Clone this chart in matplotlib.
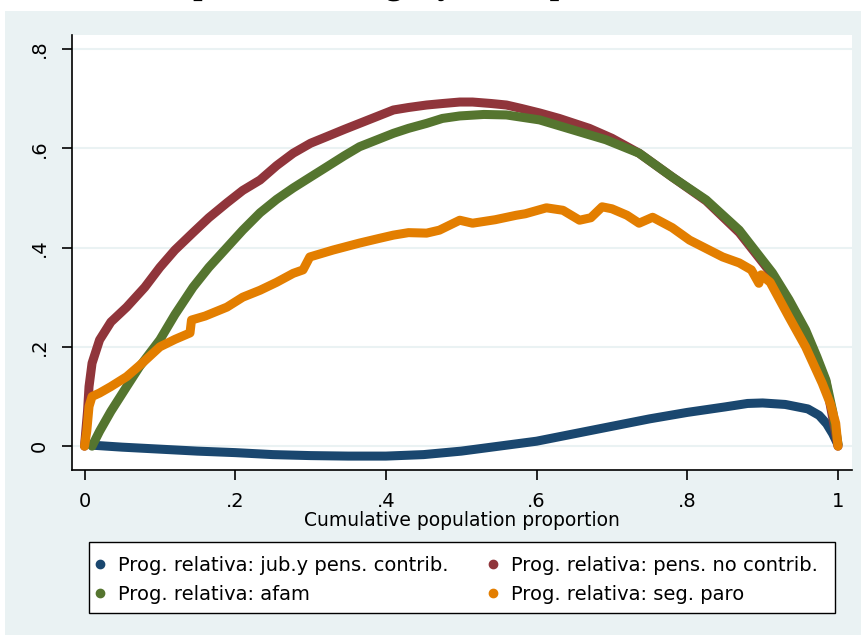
import matplotlib
matplotlib.use("Agg")
import matplotlib.pyplot as plt
import matplotlib.patheffects as pe
from matplotlib.lines import Line2D
from matplotlib.patches import Rectangle

# cumulative population proportion and relative progressivity per programme
x_contrib = [0.01, 0.03, 0.05, 0.1, 0.15, 0.2, 0.25, 0.3, 0.35, 0.4, 0.45, 0.5, 0.55,
             0.6, 0.65, 0.7, 0.75, 0.8, 0.85, 0.88, 0.9, 0.93, 0.96, 0.975, 0.985,
             0.993, 1.0]
y_contrib = [0.002, 0.0, -0.002, -0.006, -0.01, -0.013, -0.017, -0.019, -0.02, -0.02,
             -0.017, -0.01, 0.0, 0.01, 0.025, 0.04, 0.055, 0.068, 0.079, 0.086, 0.087,
             0.084, 0.075, 0.062, 0.045, 0.025, 0.003]

x_nocontrib = [0.0, 0.004, 0.006, 0.01, 0.02, 0.035, 0.056, 0.08, 0.1, 0.12, 0.144,
               0.165, 0.189, 0.21, 0.233, 0.255, 0.277, 0.3, 0.321, 0.345, 0.365, 0.39,
               0.41, 0.43, 0.454, 0.475, 0.498, 0.515, 0.54, 0.56, 0.58, 0.604, 0.63,
               0.67, 0.7, 0.736, 0.78, 0.825, 0.869, 0.913, 0.957, 0.984, 1.0]
y_nocontrib = [0.0, 0.07, 0.12, 0.167, 0.214, 0.25, 0.28, 0.32, 0.36, 0.395, 0.43,
               0.46, 0.49, 0.515, 0.536, 0.565, 0.59, 0.61, 0.623, 0.638, 0.65, 0.665,
               0.677, 0.682, 0.687, 0.69, 0.693, 0.693, 0.69, 0.687, 0.68, 0.671, 0.66,
               0.64, 0.62, 0.59, 0.542, 0.494, 0.43, 0.345, 0.23, 0.13, 0.0]

x_afam = [0.01, 0.02, 0.035, 0.056, 0.073, 0.1, 0.12, 0.144, 0.165, 0.189, 0.21, 0.233,
          0.255, 0.277, 0.3, 0.321, 0.345, 0.365, 0.39, 0.41, 0.43, 0.454, 0.475, 0.498,
          0.53, 0.56, 0.604, 0.648, 0.692, 0.736, 0.78, 0.825, 0.869, 0.913, 0.935,
          0.957, 0.972, 0.984, 0.993, 1.0]
y_afam = [0.0, 0.03, 0.07, 0.12, 0.16, 0.214, 0.265, 0.32, 0.36, 0.40, 0.435, 0.47,
          0.497, 0.52, 0.542, 0.562, 0.585, 0.603, 0.618, 0.63, 0.64, 0.65, 0.66, 0.665,
          0.668, 0.667, 0.657, 0.637, 0.617, 0.59, 0.542, 0.496, 0.435, 0.349, 0.295,
          0.234, 0.18, 0.133, 0.07, 0.005]

x_paro = [0.0, 0.003, 0.006, 0.01, 0.02, 0.035, 0.056, 0.075, 0.1, 0.12, 0.14, 0.142,
          0.16, 0.189, 0.21, 0.233, 0.255, 0.277, 0.29, 0.299, 0.33, 0.365, 0.39, 0.41,
          0.43, 0.454, 0.471, 0.498, 0.515, 0.545, 0.573, 0.585, 0.613, 0.635, 0.657,
          0.672, 0.687, 0.70, 0.72, 0.736, 0.745, 0.754, 0.78, 0.803, 0.825, 0.847,
          0.869, 0.885, 0.895, 0.898, 0.91, 0.935, 0.957, 0.979, 0.99, 0.997, 1.0]
y_paro = [0.0, 0.03, 0.08, 0.1, 0.107, 0.12, 0.14, 0.165, 0.2, 0.215, 0.228, 0.254,
          0.262, 0.28, 0.3, 0.314, 0.33, 0.348, 0.355, 0.381, 0.395, 0.409, 0.418, 0.425,
          0.43, 0.429, 0.435, 0.455, 0.449, 0.456, 0.465, 0.468, 0.48, 0.475, 0.455,
          0.46, 0.482, 0.478, 0.465, 0.449, 0.455, 0.461, 0.44, 0.415, 0.398, 0.381,
          0.369, 0.355, 0.328, 0.345, 0.33, 0.26, 0.2, 0.127, 0.085, 0.046, 0.0]

labels = ["Prog. relativa: jub.y pens. contrib.",
          "Prog. relativa: pens. no contrib.",
          "Prog. relativa: afam",
          "Prog. relativa: seg. paro"]
colors = ["#1a476f", "#90353b", "#55752f", "#e37e00"]

xticks = [0, 0.2, 0.4, 0.6, 0.8, 1.0]
xticklabels = ["0", ".2", ".4", ".6", ".8", "1"]
yticks = [0, 0.2, 0.4, 0.6, 0.8]
yticklabels = ["0", ".2", ".4", ".6", ".8"]

title = "Curvas relativas de transferencias públicas, Uruguay, ECH panel, 2006"

bg = "#eaf2f3"
plt.rcParams["font.family"] = ["DejaVu Sans"]

fig = plt.figure(figsize=(8.62, 6.35), dpi=100)
fig.patch.set_facecolor("white")
fig.patches.append(Rectangle((5 / 862, 0), 1, 1 - 11 / 635, transform=fig.transFigure,
                             facecolor=bg, edgecolor="none", zorder=-10))

# title mostly above the canvas: only the descenders show (drawn as path so it clips)
fig.text(-300 / 862, 1 + 6 / 635, title, ha="left", va="baseline", fontsize=24,
         fontweight="bold", family="Liberation Serif",
         path_effects=[pe.Normal()])

ax = fig.add_axes([72 / 862, 1 - 470 / 635, (852 - 72) / 862, (470 - 35) / 635])
ax.set_facecolor("white")

series = [(x_contrib, y_contrib), (x_nocontrib, y_nocontrib),
          (x_afam, y_afam), (x_paro, y_paro)]
for (xs, ys), c in zip(series, colors):
    ax.plot(xs, ys, color=c, linewidth=6.5, solid_capstyle="round",
            solid_joinstyle="round")

ax.set_xlim(-0.0166, 1.0186)
ax.set_ylim(-0.048, 0.828)
ax.set_xticks(xticks)
ax.set_xticklabels(xticklabels)
ax.set_yticks(yticks)
ax.set_yticklabels(yticklabels, rotation=90, va="center")
ax.tick_params(axis="both", direction="out", length=7, width=1.2, labelsize=14,
               colors="black")
ax.tick_params(axis="x", pad=9)
ax.tick_params(axis="y", pad=10)
ax.grid(axis="y", color=bg, linewidth=1.5)
ax.set_axisbelow(True)
for s in ["top", "right"]:
    ax.spines[s].set_visible(False)
for s in ["left", "bottom"]:
    ax.spines[s].set_linewidth(1.2)
ax.set_xlabel("Cumulative population proportion", fontsize=13.5, labelpad=0)

# legend box drawn by hand so it spans the same width as in the original
fig.patches.append(Rectangle((89 / 862, 1 - 613 / 635), (835 - 89) / 862, 71 / 635,
                             transform=fig.transFigure, facecolor="white",
                             edgecolor="black", linewidth=1.0, zorder=1))

# legend fills row by row: contrib, no contrib / afam, paro
order = [0, 2, 1, 3]
handles = [Line2D([], [], linestyle="none", marker="o", markersize=6,
                  markerfacecolor=colors[i], markeredgecolor=colors[i]) for i in order]
leg = fig.legend(handles, [labels[i] for i in order], ncol=2,
                 bbox_to_anchor=(93 / 862, 1 - 556 / 635),
                 loc="upper left", frameon=False, fontsize=14,
                 handlelength=0.7, handletextpad=0.6, borderpad=0,
                 labelspacing=0.5, columnspacing=1.9, borderaxespad=0)
leg.set_zorder(2)

fig.savefig("out.png", dpi=100, facecolor=fig.get_facecolor())
